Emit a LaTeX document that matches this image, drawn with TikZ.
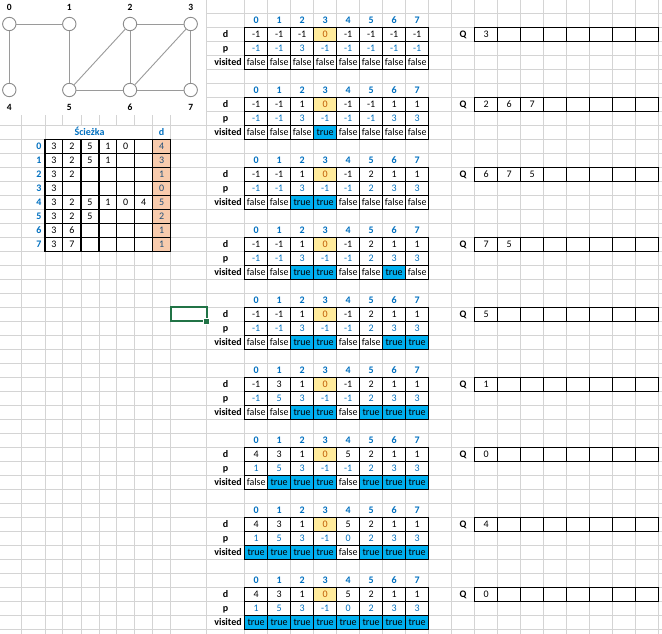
\documentclass[tikz,border=0pt]{standalone}
\usepackage{fontspec}
\setmainfont{Carlito}
\definecolor{gridc}{HTML}{D4D4D4}
\definecolor{hblue}{HTML}{0070C0}
\definecolor{tblue}{HTML}{00B0F0}
\definecolor{nfill}{HTML}{FFEB9C}
\definecolor{ntext}{HTML}{C05A00}
\definecolor{ofill}{HTML}{F8CBAD}
\definecolor{dnavy}{HTML}{1F4E79}
\definecolor{selgreen}{HTML}{217346}
\definecolor{vgray}{HTML}{8C8C8C}
\definecolor{egray}{HTML}{9A9A9A}
\begin{document}
\begin{tikzpicture}[x=1pt,y=-1pt,
  gridline/.style={draw=gridc,line width=1pt},
  tb/.style={draw=black,line width=1.1pt,line cap=rect},
  txt/.style={inner sep=0pt,font=\fontsize{10}{12}\selectfont,text height=6.5pt,text depth=0pt},
  cell/.style={txt,draw=black,line width=1.1pt,minimum width=23pt,minimum height=14pt},
  hdr/.style={txt,font=\fontsize{10}{12}\selectfont\bfseries,text=hblue},
  lab/.style={txt,font=\fontsize{10}{12}\selectfont\bfseries,text=black},
  pval/.style={txt,text=black},
  dval/.style={txt,text=dnavy},
  vert/.style={circle,draw=vgray,fill=white,line width=0.9pt,minimum size=13.4pt,inner sep=0pt},
  edge/.style={draw=egray,line width=0.9pt},
  vlab/.style={txt,font=\fontsize{9.5}{11}\selectfont\bfseries,text=black}]
\useasboundingbox (0,0) rectangle (662,634);
\fill[white] (0,0) rectangle (662,634);
% spreadsheet grid
\foreach \gx in {21.67,45,62.67,81,99,116.67,134.67,152.67,170.67,206.67}
  \draw[gridline] (\gx,0) -- (\gx,634);
\foreach \j in {0,...,18}
  \draw[gridline] ({244.67+23*\j},0) -- ({244.67+23*\j},634);
\foreach \k in {1,...,45}
  \draw[gridline] (0,{14*\k-0.67}) -- (662,{14*\k-0.67});
% masks (graph picture, merged header)
\fill[white] (0,0) rectangle (206.1,115);
\fill[white] (45.6,125.9) rectangle (152.1,138.8);
% graph
\node[vert] (v0) at (9.3,24) {};
\node[vert] (v1) at (69.3,24) {};
\node[vert] (v2) at (130,24) {};
\node[vert] (v3) at (190.7,24) {};
\node[vert] (v4) at (9.3,90) {};
\node[vert] (v5) at (69.3,90) {};
\node[vert] (v6) at (130,90) {};
\node[vert] (v7) at (190.7,90) {};
\foreach \a/\c in {0/1,0/4,1/5,2/3,2/5,2/6,3/6,3/7,5/6,6/7}
  \draw[edge] (v\a) -- (v\c);
\node[vlab] (l0) at (9.3,7.3) {0};
\node[vlab] (l1) at (69.3,7.3) {1};
\node[vlab] (l2) at (130,7.3) {2};
\node[vlab] (l3) at (190.7,7.3) {3};
\node[vlab] (l4) at (9.3,107.3) {4};
\node[vlab] (l5) at (69.3,107.3) {5};
\node[vlab] (l6) at (130,107.3) {6};
\node[vlab] (l7) at (190.7,107.3) {7};
% path table
\node[hdr,font=\fontsize{10}{12}\selectfont\bfseries] (sciezka) at (89.5,132.33) {Ścieżka};
\node[hdr] (dhead) at (161.67,132.33) {d};
\fill[ofill] (152.67,139.33) rectangle (170.67,251.33);
\foreach \xa in {45,62.67,81,99,116.67,134.67,152.67,170.67}
  \draw[tb] (\xa,139.33) -- (\xa,251.33);
\foreach \r in {0,...,8}
  \draw[tb] (45,{139.33+14*\r}) -- (170.67,{139.33+14*\r});
\foreach \r/\lst/\dd in {0/{3,2,5,1,0}/4,1/{3,2,5,1}/3,2/{3,2}/1,3/{3}/0,4/{3,2,5,1,0,4}/5,5/{3,2,5}/2,6/{3,6}/1,7/{3,7}/1}{
  \pgfmathsetmacro\yc{146.33+14*\r}
  \node[hdr,anchor=east] (rl\r) at (41.6,\yc) {\r};
  \foreach \val [count=\c from 0] in \lst {
    \pgfmathsetmacro\cx{{53.83,71.83,90,107.83,125.67,143.67}[\c]}
    \node[pval] (s\r c\c) at (\cx,\yc) {\val};
  }
  \node[dval] (sd\r) at (161.67,\yc) {\dd};
}
% selected cell
\draw[selgreen,line width=2pt] (170.67,307.33) rectangle (206.67,321.33);
\fill[white] (202.5,318.3) rectangle (209.5,324.5);
\fill[selgreen] (203.5,319.3) rectangle (208.5,323.5);
% BFS state tables
\foreach \b/\dl/\pl/\vl/\ql in {
0/{-1,-1,-1,0,-1,-1,-1,-1}/{-1,-1,3,-1,-1,-1,-1,-1}/{0,0,0,0,0,0,0,0}/{3},
1/{-1,-1,1,0,-1,-1,1,1}/{-1,-1,3,-1,-1,-1,3,3}/{0,0,0,1,0,0,0,0}/{2,6,7},
2/{-1,-1,1,0,-1,2,1,1}/{-1,-1,3,-1,-1,2,3,3}/{0,0,1,1,0,0,0,0}/{6,7,5},
3/{-1,-1,1,0,-1,2,1,1}/{-1,-1,3,-1,-1,2,3,3}/{0,0,1,1,0,0,1,0}/{7,5},
4/{-1,-1,1,0,-1,2,1,1}/{-1,-1,3,-1,-1,2,3,3}/{0,0,1,1,0,0,1,1}/{5},
5/{-1,3,1,0,-1,2,1,1}/{-1,5,3,-1,-1,2,3,3}/{0,0,1,1,0,1,1,1}/{1},
6/{4,3,1,0,5,2,1,1}/{1,5,3,-1,-1,2,3,3}/{0,1,1,1,0,1,1,1}/{0},
7/{4,3,1,0,5,2,1,1}/{1,5,3,-1,0,2,3,3}/{1,1,1,1,0,1,1,1}/{4},
8/{4,3,1,0,5,2,1,1}/{1,5,3,-1,0,2,3,3}/{1,1,1,1,1,1,1,1}/{0}}{
  \pgfmathsetmacro\yh{14*(1+5*\b)-0.67+7}
  \pgfmathsetmacro\yd{\yh+14}
  \pgfmathsetmacro\yp{\yh+28}
  \pgfmathsetmacro\yv{\yh+42}
  \foreach \i in {0,...,7}
    \node[hdr] (b\b h\i) at ({256.17+23*\i},\yh) {\i};
  \node[lab] (b\b ld) at (225.5,\yd) {d};
  \node[lab] (b\b lp) at (225.5,\yp) {p};
  \node[lab] (b\b lv) at (228,\yv) {visited};
  \foreach \v [count=\i from 0] in \dl {
    \ifnum\i=3 \def\cf{nfill}\def\ct{ntext}\else\def\cf{white}\def\ct{black}\fi
    \node[cell,fill=\cf,text=\ct] (b\b d\i) at ({256.17+23*\i},\yd) {\v};
  }
  \foreach \v [count=\i from 0] in \pl
    \node[cell,fill=white,text=hblue] (b\b p\i) at ({256.17+23*\i},\yp) {\v};
  \foreach \v [count=\i from 0] in \vl {
    \ifnum\v=1 \def\cf{tblue}\def\vt{true}\else\def\cf{white}\def\vt{false}\fi
    \node[cell,fill=\cf,text=black] (b\b v\i) at ({256.17+23*\i},\yv) {\vt};
  }
  \node[lab] (b\b q) at (463,\yd) {Q};
  \foreach \j in {0,...,7}
    \node[cell,fill=white] (b\b q\j) at ({486.17+23*\j},\yd) {};
  \foreach \q [count=\j from 0] in \ql
    \node[pval] (b\b qv\j) at ({486.17+23*\j},\yd) {\q};
}
\end{tikzpicture}
\end{document}
